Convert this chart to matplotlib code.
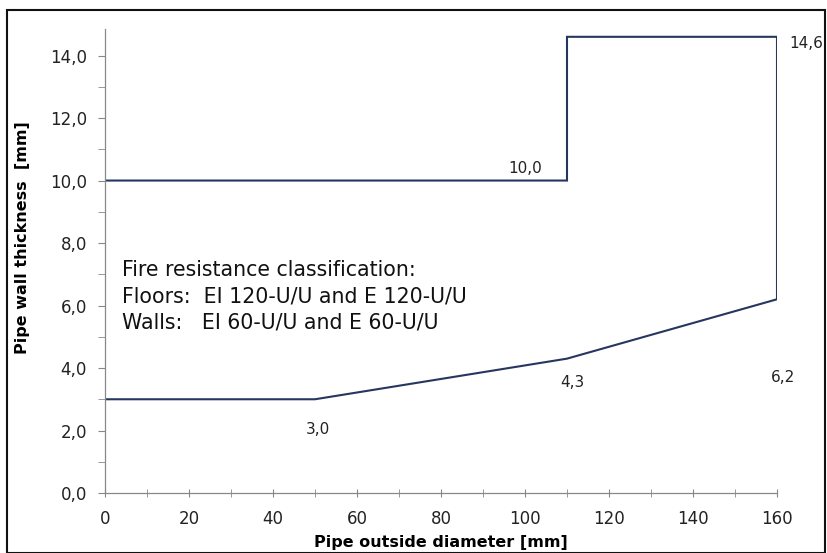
import matplotlib
matplotlib.use("Agg")
import matplotlib.pyplot as plt
from matplotlib.ticker import FuncFormatter, MultipleLocator
from matplotlib.patches import Rectangle

plt.rcParams["font.family"] = ["DejaVu Sans"]

# outline of the approved range (outer diameter vs wall thickness)
DIAMETER = [0, 110, 110, 160, 160, 110, 50, 0]
THICKNESS = [10.0, 10.0, 14.6, 14.6, 6.2, 4.3, 3.0, 3.0]

# labelled corner points and their text offsets (points)
LABEL_X = [110, 160, 160, 110, 50]
LABEL_Y = [10.0, 14.6, 6.2, 4.3, 3.0]
LABEL_OFFSETS = [(-30, 9), (21, -5), (4, -56), (4, -17), (2, -22)]

CLASSIFICATION = [
    "Fire resistance classification:",
    "Floors:  EI 120-U/U and E 120-U/U",
    "Walls:   EI 60-U/U and E 60-U/U",
]

LINE_COLOR = "#26365e"


def comma_fmt(v, pos):
    return f"{v:.1f}".replace(".", ",")


fig = plt.figure(figsize=(8.27, 5.53), dpi=100)
ax = fig.add_axes([105 / 827, 60 / 553, 672 / 827, 464 / 553])

ax.plot(DIAMETER, THICKNESS, color=LINE_COLOR, linewidth=1.5, solid_joinstyle="miter")

for x, y, off in zip(LABEL_X, LABEL_Y, LABEL_OFFSETS):
    ax.annotate(comma_fmt(y, None), (x, y), xytext=off, textcoords="offset points",
                ha="center", va="center", fontsize=11, color="#222222")

ax.text(4.0, 6.3, "\n".join(CLASSIFICATION), fontsize=14.8, color="#111111",
        ha="left", va="center", linespacing=1.38)

ax.set_xlim(0, 160)
ax.set_ylim(0, 14.85)
ax.xaxis.set_major_locator(MultipleLocator(20))
ax.xaxis.set_minor_locator(MultipleLocator(10))
ax.yaxis.set_major_locator(MultipleLocator(2))
ax.yaxis.set_minor_locator(MultipleLocator(1))
ax.yaxis.set_major_formatter(FuncFormatter(comma_fmt))

for side in ["top", "right"]:
    ax.spines[side].set_visible(False)
for side in ["left", "bottom"]:
    ax.spines[side].set_color("#888888")
    ax.spines[side].set_linewidth(0.9)

ax.tick_params(which="both", direction="out", color="#888888", labelsize=12,
               labelcolor="#222222")
ax.tick_params(axis="y", which="both", length=5, pad=8)
ax.tick_params(axis="x", which="both", direction="inout", length=6, pad=9)

ax.set_xlabel("Pipe outside diameter [mm]", fontsize=11.5, fontweight="bold")
ax.set_ylabel("Pipe wall thickness  [mm]", fontsize=11.5, fontweight="bold")
ax.xaxis.set_label_coords(0.5, -0.09)
ax.yaxis.set_label_coords(-0.112, 0.55)

fig.patches.append(Rectangle((7 / 827, 0), 818 / 827, 543 / 553, transform=fig.transFigure,
                             fill=False, edgecolor="#111111", linewidth=1.5))

fig.savefig("out.png", dpi=100)
